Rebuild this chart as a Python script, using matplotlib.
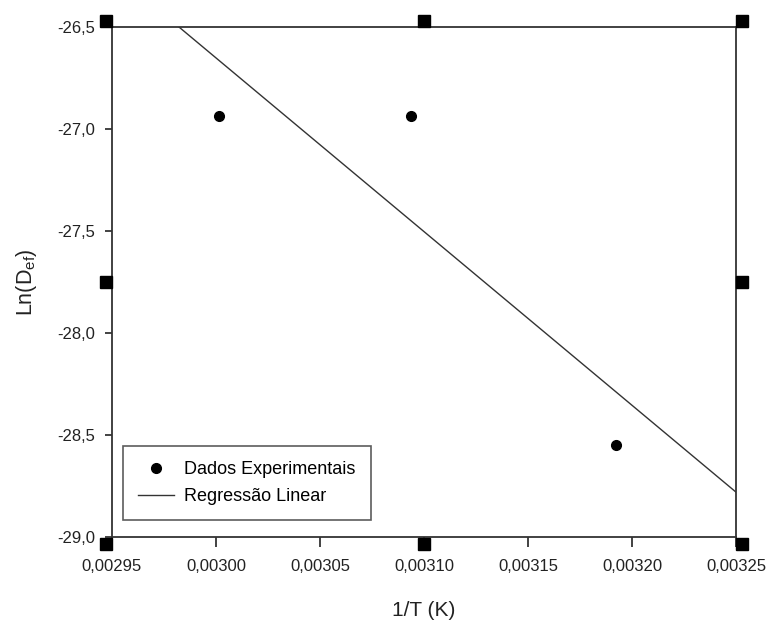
import matplotlib
matplotlib.use("Agg")
import matplotlib.pyplot as plt
from matplotlib.ticker import FuncFormatter

plt.rcParams['font.family'] = ['Liberation Sans', 'DejaVu Sans']
plt.rcParams['mathtext.default'] = 'regular'

# Data
inv_T = [0.0030014, 0.0030938, 0.0031923]
ln_def = [-26.936, -26.936, -28.549]
reg_x = [0.0029822, 0.00325]
reg_y = [-26.5, -28.78]
x_ticks = [0.00295, 0.00300, 0.00305, 0.00310, 0.00315, 0.00320, 0.00325]
y_ticks = [-26.5, -27.0, -27.5, -28.0, -28.5, -29.0]

W, H = 767, 621
fig = plt.figure(figsize=(W / 100, H / 100), dpi=100)
l, r, t, b = 112, 736, 27, 537
ax = fig.add_axes([l / W, 1 - b / H, (r - l) / W, (b - t) / H])

ax.plot(inv_T, ln_def, 'o', color='black', markersize=7, label='Dados Experimentais', zorder=3)
ax.plot(reg_x, reg_y, '-', color='#333333', linewidth=1.0, label='Regressão Linear', zorder=2)

ax.set_xlim(0.00295, 0.00325)
ax.set_ylim(-29.0, -26.5)
ax.set_xticks(x_ticks)
ax.set_yticks(y_ticks)
ax.xaxis.set_major_formatter(FuncFormatter(lambda v, p: f"{v:.5f}".replace('.', ',')))
ax.yaxis.set_major_formatter(FuncFormatter(lambda v, p: f"{v:.1f}".replace('.', ',')))
ax.tick_params(axis='x', direction='out', length=7, width=1.2, labelsize=12, pad=9, colors='#222222')
ax.tick_params(axis='y', direction='out', length=5, width=1.2, labelsize=12, pad=7, colors='#222222')
for s in ax.spines.values():
    s.set_linewidth(1.3)
    s.set_color('#333333')

ax.set_xlabel('1/T (K)', fontsize=15, labelpad=19, color='#222222')
ax.set_ylabel(r'Ln(D$_{ef}$)', fontsize=15.5, labelpad=13, color='#222222')

leg = ax.legend(loc='lower left', bbox_to_anchor=(0.0176, 0.033), fontsize=13,
                frameon=True, fancybox=False, edgecolor='#333333', borderpad=0.85,
                handlelength=2.0, handletextpad=0.55, labelspacing=0.55, numpoints=1,
                borderaxespad=0)
leg.get_frame().set_linewidth(1.2)

# Selection handles (squares at corners and midpoints)
off = 6 / 624
offy = 6.5 / 510
handles = [(-off, 1 + offy), (0.5, 1 + offy), (1 + off, 1 + offy),
           (-off, 0.5), (1 + off, 0.5),
           (-off, -offy), (0.5, -offy), (1 + off, -offy)]
for hx, hy in handles:
    ax.plot([hx], [hy], 's', color='black', markersize=8.5, transform=ax.transAxes,
            clip_on=False, zorder=5)

fig.savefig('out.png', dpi=100)
